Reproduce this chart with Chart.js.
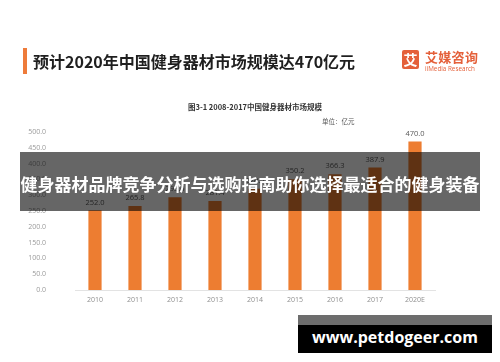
<!DOCTYPE html>
<html>
<head>
<meta charset="utf-8">
<script src="https://cdn.jsdelivr.net/npm/chart.js@4.4.1/dist/chart.umd.min.js"></script>
<style>
  html, body { margin: 0; padding: 0; background: #ffffff; }
  #wrap { position: relative; width: 500px; height: 362px; overflow: hidden; background: #fff; font-family: "Noto Sans CJK SC", "Noto Sans", sans-serif; }
  #chart { position: absolute; left: 0; top: 0; }
  .abs { position: absolute; white-space: nowrap; }
  #accent { left: 23px; top: 48px; width: 4px; height: 26px; background: #EE7B3A; }
  #title { left: 33px; top: 49px; height: 24px; line-height: 24px; font-size: 16px; letter-spacing: 0px; font-weight: 700; color: #1f1f1f; }
  #logoBox { left: 402px; top: 50px; width: 17px; height: 19px; background: #E4603A; border-radius: 2px; color: #fff; font-size: 14px; font-weight: 700; line-height: 19px; text-align: center; }
  #logoCn { left: 425px; top: 49px; height: 16px; line-height: 16px; font-size: 13px; font-weight: 700; color: #E4603A; letter-spacing: 0.3px; }
  #logoEn { left: 425px; top: 65px; height: 8px; line-height: 8px; font-size: 6.3px; color: #E4603A; font-family: "Open Sans", sans-serif; }
  #subtitle { left: 0; width: 510px; text-align: center; top: 102px; height: 10px; line-height: 10px; font-size: 7.5px; font-weight: 700; color: #333; }
  #unit { left: 322px; top: 117px; height: 9px; line-height: 9px; font-size: 6.5px; color: #555; }
  #banner { left: 20px; top: 152px; width: 460px; height: 59px; background: rgba(0,0,0,0.6); }
  #bannerText { left: 20px; top: 172px; width: 460px; text-align: center; height: 24px; line-height: 24px; font-size: 17px; font-weight: 700; color: #fff; }
  #wmStrip { left: 298px; top: 315px; width: 194px; height: 10px; background: #6d6d6d; }
  #wmBox { left: 298px; top: 325px; width: 194px; height: 28px; background: #000; }
  #wmText { left: 298px; top: 325px; width: 194px; height: 24px; line-height: 24px; text-align: center; font-size: 16px; font-weight: 700; color: #fff; font-family: "Open Sans", sans-serif; }
</style>
</head>
<body>
<div id="wrap">
  <canvas id="chart" width="500" height="362"></canvas>
  <div class="abs" id="accent"></div>
  <div class="abs" id="title">预计2020年中国健身器材市场规模达470亿元</div>
  <div class="abs" id="logoBox">艾</div>
  <div class="abs" id="logoCn">艾媒咨询</div>
  <div class="abs" id="logoEn">iiMedia Research</div>
  <div class="abs" id="subtitle">图3-1 2008-2017中国健身器材市场规模</div>
  <div class="abs" id="unit">单位：亿元</div>
  <div class="abs" id="banner"></div>
  <div class="abs" id="bannerText">健身器材品牌竞争分析与选购指南助你选择最适合的健身装备</div>
  <div class="abs" id="wmStrip"></div>
  <div class="abs" id="wmBox"></div>
  <div class="abs" id="wmText">www.petdogeer.com</div>
</div>
<script>
const categories = ['2010', '2011', '2012', '2013', '2014', '2015', '2016', '2017', '2020E'];
const marketSize = [252.0, 265.8, 293.6, 281.4, 320.5, 350.2, 366.3, 387.9, 470.0];
const yTickValues = [0, 50, 100, 150, 200, 250, 300, 350, 400, 450, 500];

const valueLabels = {
  id: 'valueLabels',
  afterDatasetsDraw(chart) {
    const ctx = chart.ctx;
    const meta = chart.getDatasetMeta(0);
    ctx.save();
    ctx.font = '7.5px "Open Sans", sans-serif';
    ctx.fillStyle = '#595959';
    ctx.textAlign = 'center';
    ctx.textBaseline = 'middle';
    meta.data.forEach((bar, i) => {
      ctx.fillText(marketSize[i].toFixed(1), bar.x, bar.y - 8);
    });
    ctx.restore();
  }
};

new Chart(document.getElementById('chart'), {
  type: 'bar',
  data: {
    labels: categories,
    datasets: [{
      data: marketSize,
      backgroundColor: '#ED7D31',
      barPercentage: 0.33,
      categoryPercentage: 1.0
    }]
  },
  options: {
    responsive: false,
    animation: false,
    devicePixelRatio: 1,
    layout: { padding: { left: 0, right: 65, top: 132, bottom: 52 } },
    plugins: { legend: { display: false }, tooltip: { enabled: false } },
    scales: {
      x: {
        grid: { display: false, drawTicks: false },
        border: { display: true, color: '#e3e3e3', width: 1 },
        ticks: { color: '#8f8f8f', font: { size: 7, family: '"Open Sans", sans-serif' }, padding: 6, maxRotation: 0 },
        afterFit(scale) { scale.height = 20; }
      },
      y: {
        min: 0,
        max: 500,
        grid: { display: false, drawTicks: false },
        border: { display: false },
        afterBuildTicks(scale) { scale.ticks = yTickValues.map(v => ({ value: v })); },
        ticks: {
          color: '#9a9a9a',
          font: { size: 7, family: '"Open Sans", sans-serif' },
          padding: 29,
          callback: (v) => Number(v).toFixed(1)
        },
        afterFit(scale) { scale.width = 75; }
      }
    }
  },
  plugins: [valueLabels]
});
</script>
</body>
</html>
